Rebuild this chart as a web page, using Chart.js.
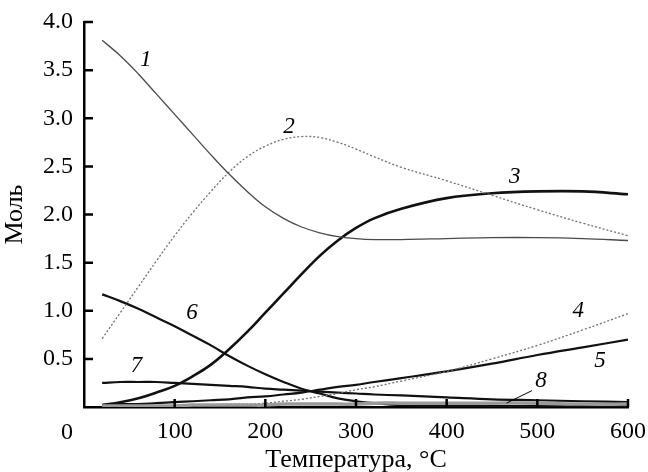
<!DOCTYPE html>
<html>
<head>
<meta charset="utf-8">
<script src="https://cdn.jsdelivr.net/npm/chart.js@4"></script>
<style>
  html, body { margin: 0; padding: 0; background: #fff; }
  #wrap { width: 648px; height: 472px; }
</style>
</head>
<body>
<div id="wrap"><canvas id="graphCanvas"></canvas></div>
<script>
// температура, °C
var temps = [20, 40, 60, 80, 100, 120, 140, 160, 180, 200, 220, 240, 260, 280, 300, 320, 350, 400, 450, 500, 550, 600];

var s1 = [3.81, 3.65, 3.46, 3.25, 3.04, 2.83, 2.62, 2.42, 2.24, 2.08, 1.96, 1.87, 1.81, 1.77, 1.75, 1.74, 1.74, 1.75, 1.76, 1.76, 1.75, 1.73];
var s2 = [0.71, 0.98, 1.25, 1.52, 1.78, 2.02, 2.24, 2.44, 2.60, 2.71, 2.78, 2.81, 2.80, 2.75, 2.68, 2.60, 2.49, 2.35, 2.20, 2.05, 1.91, 1.78];
var s3 = [0.02, 0.05, 0.09, 0.15, 0.22, 0.32, 0.44, 0.60, 0.78, 0.98, 1.18, 1.38, 1.57, 1.73, 1.86, 1.96, 2.06, 2.17, 2.22, 2.24, 2.24, 2.21];
var s4 = [0.00, 0.00, 0.01, 0.01, 0.01, 0.02, 0.02, 0.03, 0.03, 0.04, 0.06, 0.08, 0.11, 0.14, 0.18, 0.21, 0.27, 0.37, 0.50, 0.64, 0.80, 0.97];
var s5 = [0.02, 0.03, 0.03, 0.04, 0.05, 0.06, 0.07, 0.08, 0.10, 0.11, 0.13, 0.15, 0.18, 0.21, 0.23, 0.26, 0.30, 0.37, 0.45, 0.54, 0.62, 0.70];
var s6 = [1.17, 1.10, 1.02, 0.93, 0.84, 0.74, 0.64, 0.53, 0.43, 0.34, 0.26, 0.19, 0.14, 0.09, 0.06, 0.04, 0.02, 0.01, 0.01, 0.01, 0.01, 0.01];
var s7 = [0.25, 0.26, 0.26, 0.26, 0.25, 0.24, 0.23, 0.22, 0.21, 0.19, 0.18, 0.17, 0.16, 0.15, 0.14, 0.13, 0.12, 0.10, 0.08, 0.07, 0.06, 0.05];
var s8 = [0.01, 0.01, 0.01, 0.01, 0.01, 0.02, 0.02, 0.02, 0.02, 0.02, 0.03, 0.03, 0.03, 0.03, 0.03, 0.04, 0.04, 0.04, 0.04, 0.04, 0.03, 0.03];

var xTicks = [100, 200, 300, 400, 500, 600];
var yTicks = [0.5, 1.0, 1.5, 2.0, 2.5, 3.0, 3.5, 4.0];

var curveNames = ['1', '2', '3', '4', '5', '6', '7', '8'];
// где стоят номера кривых (T, моль)
var curveLabelX = [68, 226, 475, 545, 569, 119, 58, 504];
var curveLabelY = [3.61, 2.91, 2.39, 1.0, 0.48, 0.98, 0.43, 0.27];

var serif = '"Liberation Serif", "DejaVu Serif", serif';

function pts(ys) {
    var out = [];
    for (var i in temps) {
        out.push({ x: temps[i], y: ys[i] });
    }
    return out;
}

function line(ys, color, width, dash) {
    return {
        data: pts(ys),
        borderColor: color,
        borderWidth: width,
        borderDash: dash || [],
        pointRadius: 0,
        fill: false,
        tension: 0.4
    };
}

var chartdata = {
    datasets: [
        line(s8, '#9a9a9a', 3.5),
        line(s1, '#4a4a4a', 1.3),
        line(s2, '#707070', 1.3, [2, 2]),
        line(s3, '#111111', 2.6),
        line(s4, '#707070', 1.3, [2, 2]),
        line(s5, '#111111', 2.2),
        line(s6, '#111111', 2.2),
        line(s7, '#111111', 2.2)
    ]
};

// номера кривых, засечки внутрь, «0» в углу
var decor = {
    id: 'decor',
    afterDraw: function (chart) {
        var ctx = chart.ctx;
        var xs = chart.scales.x, ys = chart.scales.y;
        ctx.save();
        ctx.strokeStyle = '#000';
        ctx.lineWidth = 2.5;
        ctx.beginPath();
        for (var i in xTicks) {
            var px = xs.getPixelForValue(xTicks[i]);
            ctx.moveTo(px, ys.bottom);
            ctx.lineTo(px, ys.bottom - 8);
        }
        for (var j in yTicks) {
            var py = ys.getPixelForValue(yTicks[j]);
            ctx.moveTo(xs.left, py);
            ctx.lineTo(xs.left + 9, py);
        }
        ctx.stroke();

        ctx.fillStyle = '#000';
        ctx.font = '24px ' + serif;
        ctx.textAlign = 'center';
        ctx.textBaseline = 'middle';
        ctx.fillText('0', xs.left - 17, ys.bottom + 26);

        ctx.font = 'italic 23px ' + serif;
        for (var k in curveNames) {
            ctx.fillText(curveNames[k], xs.getPixelForValue(curveLabelX[k]), ys.getPixelForValue(curveLabelY[k]));
        }
        // выноска к кривой 8
        ctx.lineWidth = 1;
        ctx.beginPath();
        ctx.moveTo(xs.getPixelForValue(494), ys.getPixelForValue(0.17));
        ctx.lineTo(xs.getPixelForValue(466), ys.getPixelForValue(0.04));
        ctx.stroke();
        ctx.restore();
    }
};

var graphTarget = document.getElementById('graphCanvas');

var lineGraph = new Chart(graphTarget, {
    type: 'line',
    data: chartdata,
    plugins: [decor],
    options: {
        responsive: true,
        maintainAspectRatio: false,
        animation: false,
        layout: { padding: { top: 22, right: 8, left: 0, bottom: 0 } },
        plugins: {
            legend: { display: false },
            tooltip: { enabled: false }
        },
        scales: {
            x: {
                type: 'linear',
                min: 0,
                max: 600,
                afterBuildTicks: function (axis) {
                    axis.ticks = xTicks.map(function (v) { return { value: v }; });
                },
                afterFit: function (axis) { axis.height = 65; },
                grid: { display: false },
                border: { display: true, color: '#000', width: 2.5 },
                ticks: {
                    color: '#000',
                    font: { family: serif, size: 24 },
                    padding: 2,
                    maxRotation: 0
                },
                title: {
                    display: true,
                    text: 'Температура, °C',
                    color: '#000',
                    font: { family: serif, size: 26, lineHeight: 0.9 },
                    padding: { top: 0, bottom: 0 }
                }
            },
            y: {
                min: 0,
                max: 4,
                afterBuildTicks: function (axis) {
                    axis.ticks = yTicks.map(function (v) { return { value: v }; });
                },
                afterFit: function (axis) { axis.width = 84; },
                grid: { display: false },
                border: { display: true, color: '#000', width: 2.5 },
                ticks: {
                    color: '#000',
                    font: { family: serif, size: 24 },
                    padding: 3,
                    callback: function (v) { return Number(v).toFixed(1); }
                },
                title: {
                    display: true,
                    text: 'Моль',
                    color: '#000',
                    font: { family: serif, size: 26 },
                    padding: { top: 0, bottom: 0 }
                }
            }
        }
    }
});
</script>
</body>
</html>
